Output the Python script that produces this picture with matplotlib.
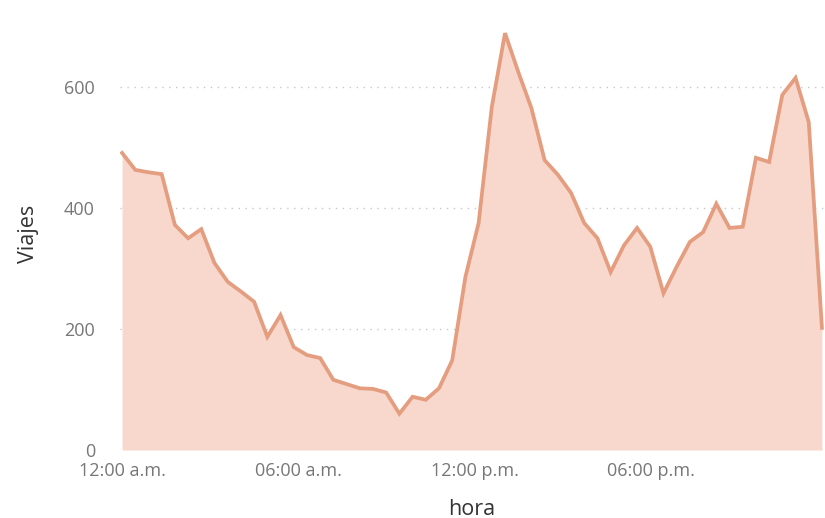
import numpy as np
import matplotlib
matplotlib.use("Agg")
import matplotlib.pyplot as plt

plt.rcParams['font.family'] = ['Open Sans', 'DejaVu Sans']

# viajes por intervalo (54 intervalos en el dia)
viajes = [491, 463, 459, 456, 372, 350, 365, 309, 278, 262,
          245, 187, 223, 170, 157, 152, 116, 109, 102, 101,
          95, 60, 88, 83, 102, 148, 286, 375, 567, 689,
          625, 565, 479, 455, 425, 375, 350, 294, 338, 367,
          336, 259, 303, 344, 360, 407, 367, 369, 483, 476,
          587, 615, 542, 202]
paso_h = 23.8 / 53
hora = np.arange(len(viajes)) * paso_h

tick_pos = [0, 6, 12, 18]
tick_lab = ["12:00 a.m.", "06:00 a.m.", "12:00 p.m.", "06:00 p.m."]
y_ticks = [0, 200, 400, 600]

fig = plt.figure(figsize=(8.25, 5.18), dpi=100)
ax = fig.add_axes([120 / 825, 68 / 518, 704 / 825, 432 / 518])

ax.fill_between(hora, 0, viajes, color="#F8D8CC", lw=0)
ax.plot(hora, viajes, color="#E59D80", lw=2.7, solid_joinstyle="miter")

ax.set_xlim(-0.07, 23.87)
ax.set_ylim(0, 714)

for v in y_ticks:
    ax.axhline(v, color="#C8C8C8", lw=1, ls=(0, (1, 4)), zorder=0)

ax.set_yticks(y_ticks)
ax.set_yticklabels([str(v) for v in y_ticks], color="#777777", fontsize=13)
ax.set_xticks(tick_pos)
ax.set_xticklabels(tick_lab, color="#777777", fontsize=13)
ax.tick_params(length=0)
ax.tick_params(axis="y", pad=18)
ax.tick_params(axis="x", pad=9)

for s in ax.spines.values():
    s.set_visible(False)

ax.set_ylabel("Viajes", fontsize=15.5, color="#333333", labelpad=18)
ax.set_xlabel("hora", fontsize=15.5, color="#333333", labelpad=13)

fig.savefig("out.png", dpi=100)
